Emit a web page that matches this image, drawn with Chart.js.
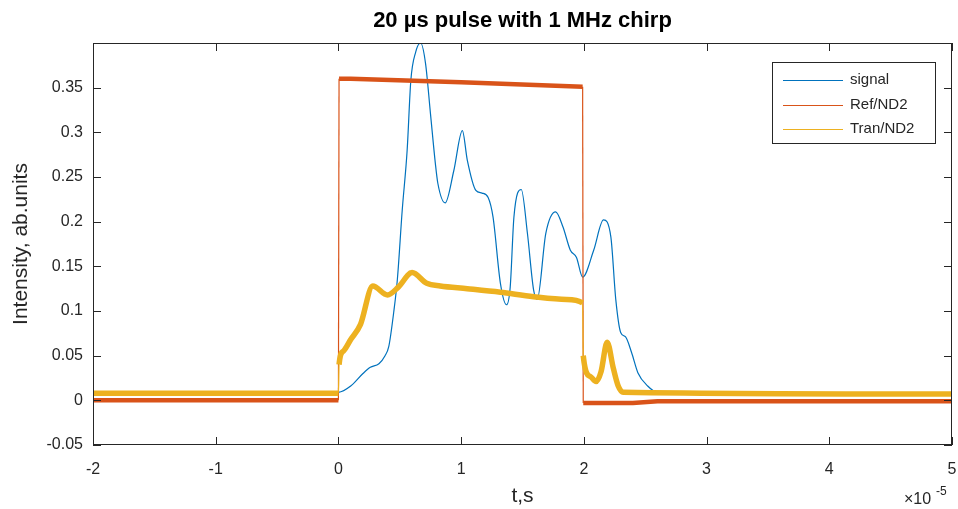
<!DOCTYPE html>
<html>
<head>
<meta charset="utf-8">
<script src="https://cdn.jsdelivr.net/npm/chart.js@4.4.1/dist/chart.umd.min.js"></script>
<style>
  html, body { margin: 0; padding: 0; background: #fff; }
</style>
</head>
<body>
<canvas id="chart" width="958" height="509"></canvas>
<script>
// data, time in units of 1e-5 s
const seriesNames = ["signal", "Ref/ND2", "Tran/ND2"];
const seriesColors = ["#0072BD", "#D95319", "#EDB120"];

const signalT = [-2, -1, 0, 0.1, 0.2, 0.26, 0.33, 0.38, 0.41, 0.45, 0.48, 0.52, 0.56, 0.59, 0.63, 0.67, 0.71, 0.75, 0.79, 0.81, 0.87, 0.94, 1.01, 1.05, 1.12, 1.17, 1.22, 1.26, 1.32, 1.37, 1.40, 1.43, 1.49, 1.54, 1.59, 1.62, 1.69, 1.77, 1.83, 1.89, 1.94, 1.99, 2.08, 2.16, 2.22, 2.26, 2.30, 2.34, 2.39, 2.44, 2.52, 2.6, 3.5, 5];
const signalV = [0.006, 0.006, 0.009, 0.016, 0.03, 0.037, 0.041, 0.05, 0.06, 0.098, 0.135, 0.213, 0.28, 0.358, 0.39, 0.40, 0.377, 0.321, 0.265, 0.243, 0.221, 0.257, 0.302, 0.269, 0.235, 0.232, 0.227, 0.205, 0.131, 0.107, 0.127, 0.205, 0.236, 0.187, 0.124, 0.113, 0.187, 0.211, 0.194, 0.168, 0.16, 0.138, 0.168, 0.202, 0.183, 0.113, 0.076, 0.071, 0.053, 0.031, 0.016, 0.009, 0.006, 0.006];

const refT = [-2, 0, 0.005, 0.1, 1, 1.99, 1.995, 2.4, 2.6, 5];
const refV = [0.0, 0.0, 0.36, 0.36, 0.356, 0.351, -0.003, -0.003, -0.001, -0.001];

const tranT = [-2, 0, 0.005, 0.04, 0.1, 0.18, 0.28, 0.4, 0.49, 0.6, 0.72, 0.83, 1.05, 1.32, 1.59, 1.86, 1.99, 1.995, 2.05, 2.1, 2.14, 2.19, 2.24, 2.28, 2.32, 5];
const tranV = [0.008, 0.008, 0.04, 0.055, 0.068, 0.085, 0.128, 0.118, 0.127, 0.143, 0.131, 0.128, 0.125, 0.121, 0.116, 0.113, 0.109, 0.05, 0.027, 0.021, 0.032, 0.065, 0.036, 0.016, 0.009, 0.007];

const xTicks = [-2, -1, 0, 1, 2, 3, 4, 5];

function pts(ts, vs) {
  return ts.map((t, i) => ({ x: t, y: vs[i] }));
}

// thin line where the trace jumps (vertical edges), thick noisy band elsewhere
function edgeWidth(thick) {
  return ctx => Math.abs(ctx.p1.parsed.x - ctx.p0.parsed.x) < 0.02 ? 1.2 : thick;
}

const INK = "#262626";
const FONT = "'Liberation Sans', Arial, sans-serif";

const decorations = {
  id: "decorations",
  afterDraw(chart) {
    const c = chart.ctx;
    const a = chart.chartArea;
    const xs = chart.scales.x, ys = chart.scales.y;
    c.save();
    // box
    c.strokeStyle = INK;
    c.lineWidth = 1;
    c.strokeRect(a.left + 0.5, a.top + 0.5, a.right - a.left - 1, a.bottom - a.top - 1);
    // inward ticks
    c.beginPath();
    xs.ticks.forEach(t => {
      const px = Math.round(xs.getPixelForValue(t.value)) + 0.5;
      c.moveTo(px, a.bottom); c.lineTo(px, a.bottom - 8);
      c.moveTo(px, a.top); c.lineTo(px, a.top + 8);
    });
    ys.ticks.forEach(t => {
      const py = Math.round(ys.getPixelForValue(t.value)) + 0.5;
      c.moveTo(a.left, py); c.lineTo(a.left + 8, py);
      c.moveTo(a.right, py); c.lineTo(a.right - 8, py);
    });
    c.stroke();

    // title
    const cx = (a.left + a.right) / 2;
    c.fillStyle = "#000";
    c.textAlign = "center";
    c.textBaseline = "middle";
    c.font = "bold 22px " + FONT;
    c.fillText("20 µs pulse with 1 MHz chirp", cx, 21);

    // axis labels
    c.fillStyle = INK;
    c.font = "21px " + FONT;
    c.fillText("t,s", cx, 496);
    c.save();
    c.translate(21, (a.top + a.bottom) / 2);
    c.rotate(-Math.PI / 2);
    c.fillText("Intensity, ab.units", 0, 0);
    c.restore();

    // exponent
    c.textAlign = "left";
    c.font = "16px " + FONT;
    c.fillText("×10", 904, 500);
    c.font = "12px " + FONT;
    c.fillText("-5", 936, 492);

    // legend
    const lx = 772, ly = 62, lw = 163, lh = 81;
    c.fillStyle = "#fff";
    c.fillRect(lx, ly, lw, lh);
    c.strokeStyle = INK;
    c.lineWidth = 1;
    c.strokeRect(lx + 0.5, ly + 0.5, lw, lh);
    c.font = "15px " + FONT;
    c.textBaseline = "middle";
    seriesNames.forEach((name, i) => {
      const y = ly + 18 + i * 24.5;
      c.strokeStyle = seriesColors[i];
      c.lineWidth = 1;
      c.beginPath();
      c.moveTo(lx + 11, Math.round(y) + 0.5);
      c.lineTo(lx + 71, Math.round(y) + 0.5);
      c.stroke();
      c.fillStyle = INK;
      c.fillText(name, lx + 78, y);
    });
    c.restore();
  }
};

new Chart(document.getElementById("chart"), {
  type: "line",
  data: {
    datasets: [
      {
        label: seriesNames[0],
        data: pts(signalT, signalV),
        borderColor: seriesColors[0],
        borderWidth: 1.2,
        cubicInterpolationMode: "monotone",
        pointRadius: 0,
        order: 3
      },
      {
        label: seriesNames[1],
        data: pts(refT, refV),
        borderColor: seriesColors[1],
        borderWidth: 4.5,
        tension: 0,
        pointRadius: 0,
        segment: { borderWidth: edgeWidth(4.5) },
        order: 2
      },
      {
        label: seriesNames[2],
        data: pts(tranT, tranV),
        borderColor: seriesColors[2],
        borderWidth: 5.5,
        cubicInterpolationMode: "monotone",
        pointRadius: 0,
        segment: { borderWidth: edgeWidth(5.5) },
        order: 1
      }
    ]
  },
  options: {
    responsive: false,
    animation: false,
    layout: { padding: { top: 43, right: 6, left: 0, bottom: 0 } },
    plugins: {
      legend: { display: false },
      tooltip: { enabled: false },
      title: { display: false }
    },
    scales: {
      x: {
        type: "linear",
        min: -2,
        max: 5,
        afterBuildTicks: s => { s.ticks = xTicks.map(v => ({ value: v })); },
        afterFit: s => { s.height = 64; s.paddingLeft = 0; s.paddingRight = 0; },
        grid: { display: false, drawTicks: false },
        border: { display: false },
        ticks: {
          color: INK,
          padding: 15,
          font: { family: FONT, size: 16 },
          maxRotation: 0,
          callback: v => String(v)
        }
      },
      y: {
        type: "linear",
        min: -0.05,
        max: 0.4,
        afterFit: s => { s.width = 93; s.paddingTop = 0; s.paddingBottom = 0; },
        grid: { display: false, drawTicks: false },
        border: { display: false },
        ticks: {
          stepSize: 0.05,
          color: INK,
          padding: 10,
          font: { family: FONT, size: 16 },
          callback: v => Math.abs(v - 0.4) < 1e-9 ? "" : String(+v.toFixed(2))
        }
      }
    }
  },
  plugins: [decorations]
});
</script>
</body>
</html>
